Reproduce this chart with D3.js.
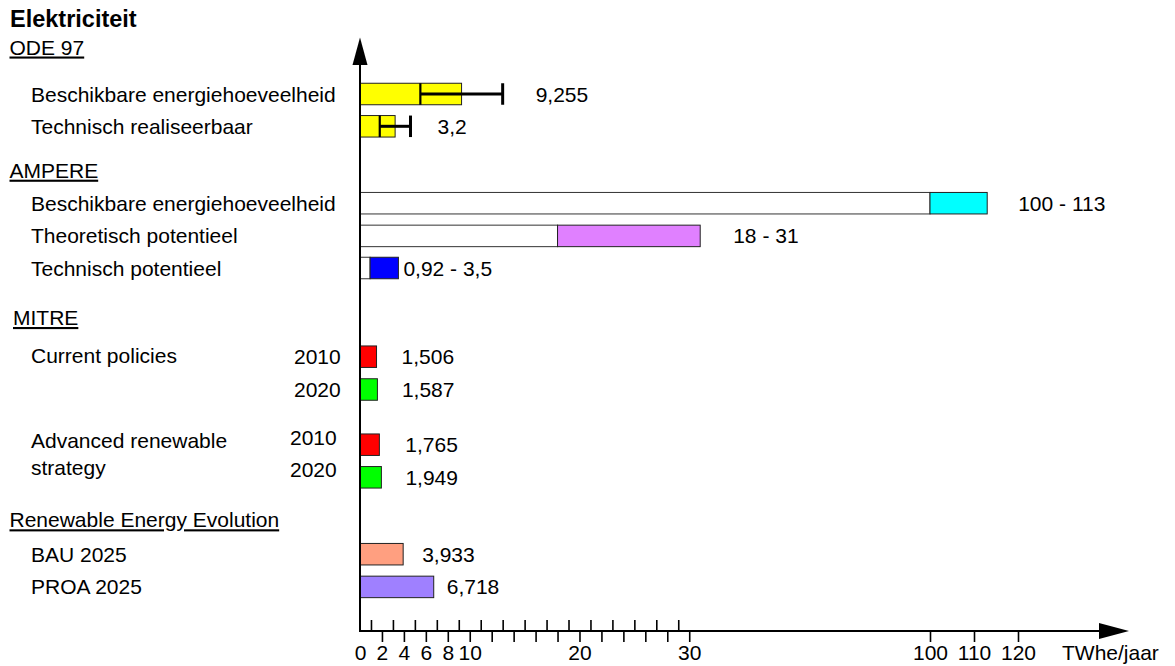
<!DOCTYPE html>
<html>
<head>
<meta charset="utf-8">
<script src="https://cdn.jsdelivr.net/npm/d3@7"></script>
<style>
  html, body { margin: 0; padding: 0; background: #fff; }
  svg { display: block; }
  text { font-family: "Liberation Sans", Arial, sans-serif; fill: #000; }
</style>
</head>
<body>
<svg id="chart" width="1175" height="666"></svg>
<script>
// ---------------- DATA ----------------
const chartTitle = "Elektriciteit";
const unitLabel = "TWhe/jaar";

const groupTitles = ["ODE 97", "AMPERE", "MITRE", "Renewable Energy Evolution"];

// ODE 97: bar to value, with range (low–high) marker
const odeLabels = ["Beschikbare energiehoeveelheid", "Technisch realiseerbaar"];
const odeValues = [9.255, 3.2];
const odeLow = [5.5, 1.8];
const odeHigh = [13.0, 4.6];
const odeText = ["9,255", "3,2"];

// AMPERE: ranges low–high
const ampereLabels = ["Beschikbare energiehoeveelheid", "Theoretisch potentieel", "Technisch potentieel"];
const ampereLow = [100, 18, 0.92];
const ampereHigh = [113, 31, 3.5];
const ampereText = ["100 - 113", "18 - 31", "0,92 - 3,5"];
const ampereColors = ["#00ffff", "#e080ff", "#0000ff"];

// MITRE
const mitreScenarios = ["Current policies", "Advanced renewable|strategy"];
const mitreYears = ["2010", "2020"];
const mitreValues = [[1.506, 1.587], [1.765, 1.949]];
const mitreText = [["1,506", "1,587"], ["1,765", "1,949"]];
const mitreYearColors = ["#ff0000", "#00ff00"];

// Renewable Energy Evolution
const reeLabels = ["BAU 2025", "PROA 2025"];
const reeValues = [3.933, 6.718];
const reeText = ["3,933", "6,718"];
const reeColors = ["#ff9f80", "#9f80ff"];

// Axis ticks
const majorTicks = [0, 2, 4, 6, 8, 10, 12, 14, 16, 18, 20, 22, 24, 26, 28, 30, 100, 110, 120];
const labeledTicks = [0, 2, 4, 6, 8, 10, 20, 30, 100, 110, 120];
const minorTicks = [1, 3, 5, 7, 9, 11, 13, 15, 17, 19, 21, 23, 25, 27, 29];

// ---------------- LAYOUT ----------------
const svg = d3.select("#chart");
const FS = 21;
const axisY = 631;
const x = d3.scaleLinear().domain([0, 31, 100, 120]).range([360, 700.2, 930, 1018]);

// row keys and their vertical centres
const rowKeys = ["ode0", "ode1", "amp0", "amp1", "amp2", "mit00", "mit01", "mit10", "mit11", "ree0", "ree1"];
const rowCenters = [94, 126.3, 203.2, 235.9, 268, 356.7, 389.5, 444.7, 477.3, 554.2, 586.9];
const y = d3.scaleOrdinal().domain(rowKeys).range(rowCenters);
const barH = 21.5;
const baseOff = 7.5;

// value label offsets (px right of bar/marker end)
const odeDx = [33, 27];
const ampDx = [31, 33, 5];
const mitDx = [[25, 24.5], [26, 24]];
const reeDx = [19, 13];

// ---------------- AXES ----------------
const g = svg.append("g");

// major ticks (downward)
const axMajor = d3.axisBottom(x)
  .tickValues(majorTicks)
  .tickSize(11)
  .tickSizeOuter(0)
  .tickPadding(3)
  .tickFormat(d => labeledTicks.includes(d) ? String(d) : "");
const gMaj = g.append("g").attr("transform", `translate(0,${axisY})`).call(axMajor);
gMaj.select(".domain").remove();
gMaj.selectAll(".tick line").attr("stroke", "#000").attr("stroke-width", 1.6);
gMaj.selectAll(".tick").filter(d => d === 0).select("line").remove();
gMaj.selectAll(".tick text")
  .attr("font-size", FS)
  .attr("font-family", '"Liberation Sans", Arial, sans-serif')
  .attr("dy", null)
  .attr("y", 29);

// minor ticks (upward)
const axMinor = d3.axisTop(x).tickValues(minorTicks).tickSize(11).tickSizeOuter(0).tickFormat("");
const gMin = g.append("g").attr("transform", `translate(0,${axisY})`).call(axMinor);
gMin.select(".domain").remove();
gMin.selectAll(".tick line").attr("stroke", "#000").attr("stroke-width", 1.6);

// axis lines + arrows
const x0 = x(0);
g.append("line").attr("x1", x0).attr("x2", 1101).attr("y1", axisY).attr("y2", axisY)
  .attr("stroke", "#000").attr("stroke-width", 2);
g.append("path").attr("d", `M1099,${axisY - 8}L1129,${axisY}L1099,${axisY + 8}Z`).attr("fill", "#000");
g.append("line").attr("x1", x0).attr("x2", x0).attr("y1", axisY + 1).attr("y2", 63)
  .attr("stroke", "#000").attr("stroke-width", 2);
g.append("path").attr("d", `M${x0 - 7.5},65L${x0},37.5L${x0 + 7.5},65Z`).attr("fill", "#000");

g.append("text").attr("x", 1062).attr("y", 660).attr("font-size", FS).text(unitLabel);

// ---------------- TITLES ----------------
svg.append("text").attr("x", 10).attr("y", 26.5).attr("font-size", 23.5).attr("font-weight", "bold").text(chartTitle);

const titleX = [9.5, 9.5, 13, 9.5];
const titleY = [54.5, 177.7, 325, 527.3];
svg.selectAll("text.group").data(groupTitles).enter().append("text")
  .attr("class", "group")
  .attr("x", (d, i) => titleX[i]).attr("y", (d, i) => titleY[i])
  .attr("font-size", FS)
  .attr("text-decoration", "underline")
  .text(d => d);

const labelX = 31;
function rowLabel(key, text) {
  svg.append("text").attr("x", labelX).attr("y", y(key) + baseOff).attr("font-size", FS).text(text);
}
function valueLabel(xpos, key, text) {
  svg.append("text").attr("x", xpos).attr("y", y(key) + baseOff).attr("font-size", FS).text(text);
}
const barStroke = "#222";

// ---------------- ODE 97 ----------------
odeLabels.forEach((lab, i) => {
  const k = "ode" + i;
  rowLabel(k, lab);
  const cy = y(k);
  svg.append("rect").attr("x", x(0)).attr("y", cy - barH / 2)
    .attr("width", x(odeValues[i]) - x(0)).attr("height", barH)
    .attr("fill", "#ffff00").attr("stroke", barStroke).attr("stroke-width", 1);
  svg.append("line").attr("x1", x(odeLow[i])).attr("x2", x(odeLow[i]))
    .attr("y1", cy - barH / 2).attr("y2", cy + barH / 2)
    .attr("stroke", "#000").attr("stroke-width", 2.2);
  svg.append("line").attr("x1", x(odeLow[i])).attr("x2", x(odeHigh[i]))
    .attr("y1", cy).attr("y2", cy).attr("stroke", "#000").attr("stroke-width", 3);
  svg.append("line").attr("x1", x(odeHigh[i])).attr("x2", x(odeHigh[i]))
    .attr("y1", cy - barH / 2).attr("y2", cy + barH / 2)
    .attr("stroke", "#000").attr("stroke-width", 3);
  valueLabel(x(odeHigh[i]) + odeDx[i], k, odeText[i]);
});

// ---------------- AMPERE ----------------
ampereLabels.forEach((lab, i) => {
  const k = "amp" + i;
  rowLabel(k, lab);
  const cy = y(k);
  svg.append("rect").attr("x", x(0)).attr("y", cy - barH / 2)
    .attr("width", x(ampereLow[i]) - x(0)).attr("height", barH)
    .attr("fill", "#fff").attr("stroke", "#333").attr("stroke-width", 1);
  svg.append("rect").attr("x", x(ampereLow[i])).attr("y", cy - barH / 2)
    .attr("width", x(ampereHigh[i]) - x(ampereLow[i])).attr("height", barH)
    .attr("fill", ampereColors[i]).attr("stroke", barStroke).attr("stroke-width", 1);
  valueLabel(x(ampereHigh[i]) + ampDx[i], k, ampereText[i]);
});

// ---------------- MITRE ----------------
const scenLabelY = [[363.3], [447.7, 475]];
const yearRight = [340.7, 336.7];
const yearY = [[364, 396.7], [445, 477.3]];
mitreScenarios.forEach((sc, s) => {
  sc.split("|").forEach((line, li) => {
    svg.append("text").attr("x", labelX).attr("y", scenLabelY[s][li]).attr("font-size", FS).text(line);
  });
  mitreYears.forEach((yr, j) => {
    const k = "mit" + s + j;
    const cy = y(k);
    svg.append("text").attr("x", yearRight[s]).attr("y", yearY[s][j])
      .attr("text-anchor", "end").attr("font-size", FS).text(yr);
    svg.append("rect").attr("x", x(0)).attr("y", cy - barH / 2)
      .attr("width", x(mitreValues[s][j]) - x(0)).attr("height", barH)
      .attr("fill", mitreYearColors[j]).attr("stroke", barStroke).attr("stroke-width", 1);
    valueLabel(x(mitreValues[s][j]) + mitDx[s][j], k, mitreText[s][j]);
  });
});

// ---------------- REE ----------------
reeLabels.forEach((lab, i) => {
  const k = "ree" + i;
  rowLabel(k, lab);
  const cy = y(k);
  svg.append("rect").attr("x", x(0)).attr("y", cy - barH / 2)
    .attr("width", x(reeValues[i]) - x(0)).attr("height", barH)
    .attr("fill", reeColors[i]).attr("stroke", barStroke).attr("stroke-width", 1);
  valueLabel(x(reeValues[i]) + reeDx[i], k, reeText[i]);
});

// keep axis on top of bars
g.raise();
</script>
</body>
</html>
